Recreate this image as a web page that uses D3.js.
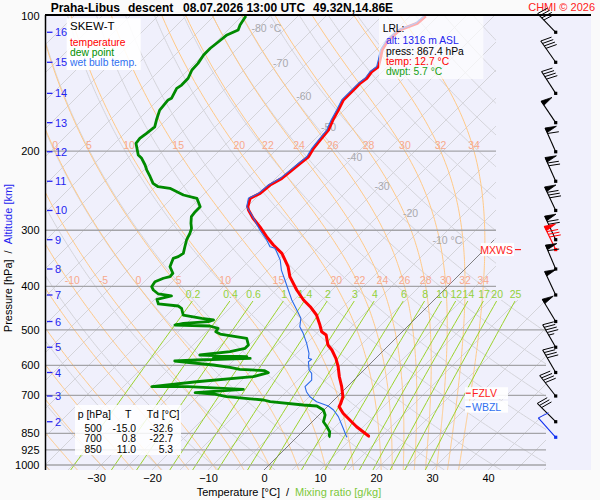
<!DOCTYPE html>
<html><head><meta charset="utf-8">
<script src="https://cdn.jsdelivr.net/npm/d3@7"></script>
<style>
html,body{margin:0;padding:0;background:#fafafa;}
svg{display:block;font-family:"Liberation Sans",Arial,Helvetica,sans-serif;}
</style></head><body>
<svg id="c" width="600" height="500"></svg>
<script>
// ---------------- data ----------------
const pressureTicks = [100,200,300,400,500,600,700,850,925,1000];
const isobarLevels  = [200,300,400,500,600,700,850,925,1000];
const tempTicks     = [-30,-20,-10,0,10,20,30,40];
const kmTicks       = [2,3,4,5,6,7,8,9,10,11,12,13,14,15,16];
const kmPressure    = [801.0,702.0,622.3,546.7,479.1,418.2,366.0,314.9,271.1,233.4,200.6,172.8,148.7,126.8,108.7];
const isothermLabelTemps = [-80,-70,-60,-50,-40,-30,-20,-10];
const moistThetaW   = [-40,-35,-30,-25,-20,-15,-10,-5,0,5,10,15,20,22,24,26,28,30,32,34];
const moistLabelPressures = [200,400];
const mixingRatios  = [0.2,0.4,0.6,1,1.4,2,3,4,6,8,10,12,14,17,20,25];

const tempP = [100,103.8,107.4,113.1,119.1,125.3,129.7,133.1,137.6,141.2,144.9,153.8,162.0,170.5,179.5,188.9,197.1,205.8,212.8,222.2,229.9,237.9,248.3,254.7,266.0,270.4,282.2,294.6,310.1,323.6,337.7,361.7,380.7,407.6,429.0,444.1,463.4,487.8,504.9,513.5,540.5,554.5,578.7,604.1,635.9,669.3,704.5,728.7,741.5,767.1,794.0,821.7,861.8,867.4];
const tempT = [-52.2,-52.4,-54.3,-54.6,-53.9,-52.5,-51.6,-51.9,-51.6,-51.9,-51.9,-51.9,-51.0,-50.2,-49.2,-48.9,-48.6,-48.0,-48.3,-48.6,-48.9,-49.8,-50.1,-51.0,-49.9,-49.2,-46.9,-44.2,-41.2,-38.5,-35.5,-32.0,-29.9,-26.3,-23.3,-20.9,-18.3,-15.9,-14.4,-13.0,-10.9,-9.3,-7.1,-5.2,-3.2,-1.0,1.0,1.8,2.1,4.0,6.4,8.8,12.6,12.7];

const dewP = [100,104.7,107.4,110.2,114.1,118.0,122.1,127.5,131.9,137.6,142.5,144.9,152.5,153.8,162.0,170.5,176.5,182.5,187.3,192.1,204.0,207.5,214.7,220.3,228.0,235.9,240.0,242.0,250.4,254.7,266.0,272.8,279.9,289.5,297.1,304.8,315.4,326.5,337.7,343.6,346.5,361.7,374.1,380.7,383.8,390.6,400.7,407.6,416.0,420.3,427.5,437.9,442.5,447.7,463.4,471.3,475.4,479.6,483.5,487.8,490.3,496.2,504.9,510.9,522.3,540.5,549.7,559.3,568.9,573.9,578.7,578.7,583.7,586.7,598.8,605.9,612.2,616.6,622.9,635.9,652.5,669.3,669.3,678.3,690.2,694.8,704.5,716.5,722.8,735.1,738.9,754.2,773.9,801.0,821.7,843.1,864.9,867.4];
const dewT = [-84.3,-83.75,-83.2,-84.3,-84.6,-84.9,-84.9,-84.4,-84.3,-83.5,-83.45,-83.75,-82.9,-83.2,-82.9,-81.7,-80.8,-81.1,-81.4,-81.2,-78.7,-77.5,-75.7,-74.5,-72.7,-71.0,-69.5,-67.1,-63.5,-60.5,-58.4,-58.4,-58.2,-57.1,-56.1,-55.5,-54.9,-54.0,-53.1,-53.4,-54.0,-53.1,-51.4,-51.3,-52.2,-53.1,-52.8,-51.9,-50.3,-47.6,-49.6,-48.5,-44.6,-43.6,-42.1,-38.2,-35.8,-36.4,-40.6,-41.8,-35.4,-33.5,-33.3,-32.1,-26.6,-25.1,-25.1,-27.2,-32.0,-23.3,-29.0,-22.4,-31.7,-35.4,-27.8,-24.4,-22.3,-17.6,-16.6,-18.6,-27.8,-34.9,-28.4,-18.1,-26.1,-22.6,-19.75,-12.6,-11.1,-4.6,-2.0,-0.1,1.1,2.0,3.5,4.9,5.7,5.7];

const wbP = [100,103.8,107.4,113.1,119.1,125.3,129.7,133.1,137.6,141.2,144.9,153.8,162.0,170.5,179.5,188.9,197.1,205.8,212.8,222.2,229.9,237.9,248.3,254.7,266.0,277.5,299.6,315.4,326.5,329.2,349.5,368.0,387.2,407.6,429.0,451.7,471.3,492.0,509.1,535.8,564.0,578.7,581.8,588.9,614.4,624.9,646.8,669.3,686.7,704.5,722.8,738.9,754.2,780.4,828.5,864.9,867.4];
const wbT = [-52.5,-52.7,-54.6,-54.9,-54.2,-52.8,-51.9,-52.2,-51.9,-52.2,-52.2,-52.2,-51.3,-50.5,-49.5,-49.2,-48.9,-48.3,-48.6,-48.9,-49.2,-50.1,-50.4,-51.3,-50.1,-47.7,-43.6,-40.6,-38.8,-37.6,-34.6,-32.6,-30.2,-27.8,-25.4,-22.7,-20.5,-19.2,-17.4,-15.0,-12.8,-12.0,-11.25,-11.4,-9.8,-8.75,-7.55,-7.55,-6.4,-4.9,-2.8,0.05,1.7,3.75,6.7,8.8,9.0];

const windP   = [108.7,126.8,148.7,172.8,200.6,233.4,271.1,314.9,331.3,366.0,418.2,479.1,546.7,622.3,702.0,801.0,867.4];
const windDir = [316,325,327,326,336,336,335,335,334,337,335,329,330,330,322,315,318];
const windSpd = [40,40,40,50,60,70,80,70,80,60,50,50,45,40,40,30,10];

const tableP  = [500,700,850];
const tableT  = [-15.0,0.8,11.0];
const tableTd = [-32.6,-22.7,5.3];

const lrlAlt = 1316, lrlPress = 867.4, lrlTemp = 12.7, lrlDwpt = 5.7;
const fzlvP = 692, wbzlP = 741.5, mxwsP = 331.3;

// ---------------- geometry ----------------
const FONT = '"Liberation Sans",Arial,Helvetica,sans-serif';
const XL = 45, XR = 591, XGRID = 546, XUP = 496, YT = 15, YB = 470;
const y  = d3.scaleLog().domain([100,1000]).range([16,465]);
const pBottom = y.invert(YB);
const xT = d3.scaleLinear().domain([-30,40]).range([96,488]); // at plot bottom
const sx = (T,p) => xT(T) + (YB - y(p));
const line = d3.line().x(d => sx(d[1], d[0])).y(d => y(d[0]));

const svg = d3.select('#c');
svg.append('rect').attr('width',600).attr('height',500).attr('fill','#fafafa');
const defs = svg.append('defs');
defs.append('clipPath').attr('id','gclip').append('path')
  .attr('d',`M${XL},${YT}H${XUP}V300H${XGRID}V${YB}H${XL}Z`);
defs.append('clipPath').attr('id','pclip').append('rect')
  .attr('x',XL).attr('y',YT).attr('width',XR-XL).attr('height',YB-YT);

svg.append('rect').attr('x',XL).attr('y',YT).attr('width',XR-XL).attr('height',YB-YT).attr('fill','#f0f0fc');

const grid = svg.append('g').attr('clip-path','url(#gclip)');
const psamp = d3.range(0,241).map(i => 100*Math.pow(pBottom/100, i/240));

// isotherms
d3.range(-125,55,5).forEach(T => {
  grid.append('path').attr('d', line([[pBottom,T],[100,T]]))
    .attr('stroke','#d4d4da').attr('stroke-width',1).attr('fill','none');
});
// dry adiabats (theta in deg C)
d3.range(-40,190,10).forEach(th => {
  const K = th + 273.15;
  grid.append('path').attr('d', line(psamp.map(p => [p, K*Math.pow(p/1000,0.2857)-273.15])))
    .attr('stroke','#d4d4da').attr('stroke-width',1).attr('fill','none');
});
// moist adiabats
function esat(Tc){ return 6.112*Math.exp(17.67*Tc/(Tc+243.5)); }
function moistDT(TK,p){
  const Rd=287.04,Cp=1005.7,L=2.501e6,eps=0.622;
  const es=esat(TK-273.15); const rs=eps*es/Math.max(p-es,1e-3);
  return (Rd*TK + L*rs)/(Cp + L*L*rs*eps/(Rd*TK*TK))/p;
}
function moistLine(thw){
  const down=[]; let T=thw+273.15, p=1000;
  while(p<pBottom){ const dp=Math.min(2,pBottom-p); const k1=moistDT(T,p); const k2=moistDT(T+k1*dp,p+dp); T+=(k1+k2)/2*dp; p+=dp; down.push([p,T-273.15]); }
  const up=[[1000,thw]]; T=thw+273.15; p=1000;
  while(p>100){ const dp=-Math.min(4,p-100); const k1=moistDT(T,p); const k2=moistDT(T+k1*dp,p+dp); T+=(k1+k2)/2*dp; p+=dp; up.push([p,T-273.15]); }
  return down.reverse().concat(up);
}
const moistLines = moistThetaW.map(t => ({t, pts: moistLine(t)}));
moistLines.forEach(m => {
  grid.append('path').attr('d', line(m.pts)).attr('stroke','#ffc987').attr('stroke-width',1).attr('fill','none');
});
// mixing ratio lines
function tdFromW(w,p){ const e=w*p/(622+w); const l=Math.log(e/6.112); return 243.5*l/(17.67-l); }
const pMixTop = y.invert(301);
const mixSamp = d3.range(0,31).map(i => pMixTop*Math.pow(pBottom/pMixTop, i/30));
mixingRatios.forEach(w => {
  grid.append('path').attr('d', line(mixSamp.map(p => [p, tdFromW(w,p)])))
    .attr('stroke','#9bd22c').attr('stroke-width',1).attr('fill','none');
});
// isobars
isobarLevels.forEach(p => {
  grid.append('line').attr('x1',XL).attr('x2',XGRID).attr('y1',y(p)).attr('y2',y(p))
    .attr('stroke','#a4a4a8').attr('stroke-width',1.3);
});
// 0 C isotherm (dark)
svg.append('path').attr('d', line([[pBottom,0],[y.invert(240),0]]))
  .attr('stroke','#6a6a6a').attr('stroke-width',0.8).attr('fill','none');

// labels: isotherms
const lab = svg.append('g').attr('font-family',FONT);
isothermLabelTemps.forEach(T => {
  const p = 1000*Math.pow((T+273.15)/366.15, 1/0.2857);
  lab.append('text').attr('x', sx(T,p)-6).attr('y', y(p)+4)
    .attr('font-size',10.5).attr('fill','#a9a9ad')
    .text((T===-80||T===-10) ? `${T} °C` : `${T}`);
});
// labels: moist adiabats
moistLabelPressures.forEach(lp => {
  moistLines.forEach(m => {
    const pt = m.pts.reduce((a,b) => Math.abs(b[0]-lp) < Math.abs(a[0]-lp) ? b : a);
    const xx = sx(pt[1], lp);
    if (xx > 50 && xx < 492) {
      lab.append('text').attr('x',xx).attr('y',y(lp)-2).attr('text-anchor','middle')
        .attr('font-size',10.5).attr('fill','#f7a98c').text(m.t);
    }
  });
});
// labels: mixing ratio
const pMixLab = y.invert(300);
mixingRatios.forEach(w => {
  lab.append('text').attr('x', sx(tdFromW(w,pMixLab),pMixLab)).attr('y',298).attr('text-anchor','middle')
    .attr('font-size',10.5).attr('fill','#93d13a').text(w);
});

// ---------------- profiles ----------------
const prof = svg.append('g').attr('clip-path','url(#pclip)');
prof.append('path').attr('d', line(d3.zip(dewP,dewT))).attr('fill','none')
  .attr('stroke','#008a00').attr('stroke-width',2.8).attr('stroke-linejoin','round');
prof.append('path').attr('d', line(d3.zip(tempP,tempT))).attr('fill','none')
  .attr('stroke','#ff0000').attr('stroke-width',3).attr('stroke-linejoin','round');
prof.append('path').attr('d', line(d3.zip(wbP,wbT))).attr('fill','none')
  .attr('stroke','#2a6ae8').attr('stroke-width',1.1).attr('stroke-linejoin','round');

// ---------------- boxes ----------------
const box = svg.append('g').attr('font-family',FONT);
// legend
box.append('rect').attr('x',66.7).attr('y',18.3).attr('width',74).attr('height',51.7).attr('fill','#fff').attr('opacity',0.9);
[['SKEW-T','#000',30,11.5],['temperature','#ff0000',46,10.3],['dew point','#009000',55.7,10.3],['wet bulb temp.','#3070f0',65.5,10.3]]
 .forEach(d => box.append('text').attr('x',70).attr('y',d[2]).attr('fill',d[1]).attr('font-size',d[3]).text(d[0]));
// LRL
box.append('rect').attr('x',379).attr('y',16).attr('width',104.3).attr('height',63).attr('fill','#fff').attr('opacity',0.68);
box.append('text').attr('x',382.7).attr('y',32).attr('font-size',10.3).attr('fill','#000').text('LRL:');
[[`alt: ${lrlAlt} m ASL`,'#2323f0',44],[`press: ${lrlPress.toFixed(1)} hPa`,'#000',55],
 [`temp: ${lrlTemp.toFixed(1)} °C`,'#ff0000',65],[`dwpt: ${lrlDwpt.toFixed(1)} °C`,'#14a014',74.7]]
 .forEach(d => box.append('text').attr('x',386).attr('y',d[2]).attr('fill',d[1]).attr('font-size',10.3).text(d[0]));
// table
box.append('rect').attr('x',75).attr('y',405).attr('width',106).attr('height',50).attr('fill','#fff').attr('opacity',0.85);
box.append('text').attr('x',77.7).attr('y',418).attr('font-size',10.5).text('p [hPa]');
box.append('text').attr('x',125).attr('y',418).attr('font-size',10.5).text('T');
box.append('text').attr('x',146.7).attr('y',418).attr('font-size',10.5).text('Td [°C]');
tableP.forEach((p,i) => {
  const yy = 432 + i*10.3;
  box.append('text').attr('x',101.7).attr('y',yy).attr('text-anchor','end').attr('font-size',10.3).text(p);
  box.append('text').attr('x',136).attr('y',yy).attr('text-anchor','end').attr('font-size',10.3).text(tableT[i].toFixed(1));
  box.append('text').attr('x',173).attr('y',yy).attr('text-anchor','end').attr('font-size',10.3).text(tableTd[i].toFixed(1));
});
// level markers
function marker(p, txt, col, right){
  const yy = y(p);
  if (!right) {
    box.append('rect').attr('x',465).attr('y',yy-6).attr('width',43).attr('height',12).attr('fill','#fff').attr('opacity',0.9);
    box.append('line').attr('x1',465.7).attr('x2',470.7).attr('y1',yy).attr('y2',yy).attr('stroke',col).attr('stroke-width',1.2);
    box.append('text').attr('x',472).attr('y',yy+4).attr('fill',col).attr('font-size',10.5).text(txt);
  } else {
    box.append('rect').attr('x',481).attr('y',yy-6.5).attr('width',33).attr('height',13).attr('fill','#fff').attr('opacity',0.9);
    box.append('text').attr('x',513).attr('y',yy+4).attr('text-anchor','end').attr('fill',col).attr('font-size',10.5).text(txt);
    box.append('line').attr('x1',515).attr('x2',521).attr('y1',yy).attr('y2',yy).attr('stroke',col).attr('stroke-width',1.2);
  }
}
marker(fzlvP,'FZLV','#ff2020',false);
marker(wbzlP,'WBZL','#3070f0',false);
marker(mxwsP,'MXWS','#ff2020',true);

// ---------------- axes ----------------
const ax = svg.append('g').attr('font-family',FONT);
const yAxis = d3.axisLeft(y).tickValues(pressureTicks).tickSize(0).tickPadding(5.5).tickFormat(d3.format('d'));
const gy = ax.append('g').attr('transform',`translate(${XL},0)`).call(yAxis);
gy.select('.domain').remove();
gy.selectAll('text').attr('font-size',11).attr('fill','#000').attr('font-family',FONT);
const xAxis = d3.axisBottom(xT).tickValues(tempTicks).tickSize(0).tickPadding(4)
  .tickFormat(d => d < 0 ? '\u2212' + Math.abs(d) : d);
const gx = ax.append('g').attr('transform',`translate(0,${YB})`).call(xAxis);
gx.select('.domain').remove();
gx.selectAll('text').attr('font-size',11).attr('fill','#000').attr('font-family',FONT);
// left axis line and top line
ax.append('line').attr('x1',45.5).attr('x2',45.5).attr('y1',YT).attr('y2',YB).attr('stroke','#000').attr('stroke-width',1.5);
ax.append('line').attr('x1',45).attr('x2',XR).attr('y1',15).attr('y2',15).attr('stroke','#000').attr('stroke-width',2);
// km ticks
kmTicks.forEach((k,i) => {
  const yy = y(kmPressure[i]);
  ax.append('line').attr('x1',47).attr('x2',52.5).attr('y1',yy).attr('y2',yy).attr('stroke','#2424f0').attr('stroke-width',1.3);
  ax.append('text').attr('x',55).attr('y',yy+4).attr('font-size',11).attr('fill','#2424f0').text(k);
});
// axis titles
const yt = ax.append('text').attr('transform','translate(12,258) rotate(-90)').attr('text-anchor','middle').attr('font-size',11);
yt.append('tspan').attr('fill','#000').text('Pressure [hPa]');
yt.append('tspan').attr('fill','#000').attr('dx',6).text('/');
yt.append('tspan').attr('fill','#2424f0').attr('dx',6).text('Altitude [km]');
const xtl = ax.append('text').attr('x',196.7).attr('y',496).attr('font-size',11);
xtl.append('tspan').attr('fill','#000').text('Temperature [°C]');
xtl.append('tspan').attr('fill','#000').attr('dx',6).text('/');
xtl.append('tspan').attr('fill','#7cc83a').attr('dx',6).text('Mixing ratio [g/kg]');

// header
[['Praha-Libus',50.7],['descent',128],['08.07.2026 13:00 UTC',183],['49.32N,14.86E',313]].forEach(d => {
  ax.append('text').attr('x',d[1]).attr('y',11.5).attr('font-size',12).attr('font-weight','bold').attr('fill','#000').text(d[0]);
});
ax.append('text').attr('x',595).attr('y',10.5).attr('text-anchor','end').attr('font-size',11).attr('fill','#ff2020').text('CHMI © 2026');

// ---------------- wind barbs ----------------
const wb = svg.append('g');
function barb(px, py, dir, spd, col){
  const r = dir*Math.PI/180, u = [Math.sin(r), -Math.cos(r)], pr = [-u[1], u[0]];
  const Ls = 26, tip = [px+u[0]*Ls, py+u[1]*Ls];
  const f = [pr[0]*11 - u[0]*3, pr[1]*11 - u[1]*3];
  wb.append('line').attr('x1',px).attr('y1',py).attr('x2',tip[0]).attr('y2',tip[1]).attr('stroke',col).attr('stroke-width',1.1);
  let s = 0, rem = spd;
  const at = d => [tip[0]-u[0]*d, tip[1]-u[1]*d];
  while (rem >= 50) {
    const a = at(s), b = at(s+5);
    wb.append('path').attr('d',`M${a[0]},${a[1]}L${a[0]+f[0]},${a[1]+f[1]}L${b[0]},${b[1]}Z`).attr('fill',col).attr('stroke',col).attr('stroke-width',0.8);
    s += 6; rem -= 50;
  }
  while (rem >= 10) {
    const a = at(s);
    wb.append('line').attr('x1',a[0]).attr('y1',a[1]).attr('x2',a[0]+f[0]).attr('y2',a[1]+f[1]).attr('stroke',col).attr('stroke-width',1);
    s += 3; rem -= 10;
  }
  if (rem >= 5) {
    const a = at(s);
    wb.append('line').attr('x1',a[0]).attr('y1',a[1]).attr('x2',a[0]+f[0]/2).attr('y2',a[1]+f[1]/2).attr('stroke',col).attr('stroke-width',1);
  }
  wb.append('rect').attr('x',px-1.6).attr('y',py-1.6).attr('width',3.2).attr('height',3.2).attr('fill',col);
}
windP.forEach((p,i) => {
  const col = p === mxwsP ? '#ff0000' : (p === lrlPress ? '#1030f0' : '#000');
  barb(555.7, y(p), windDir[i], windSpd[i], col);
});
</script></body></html>
